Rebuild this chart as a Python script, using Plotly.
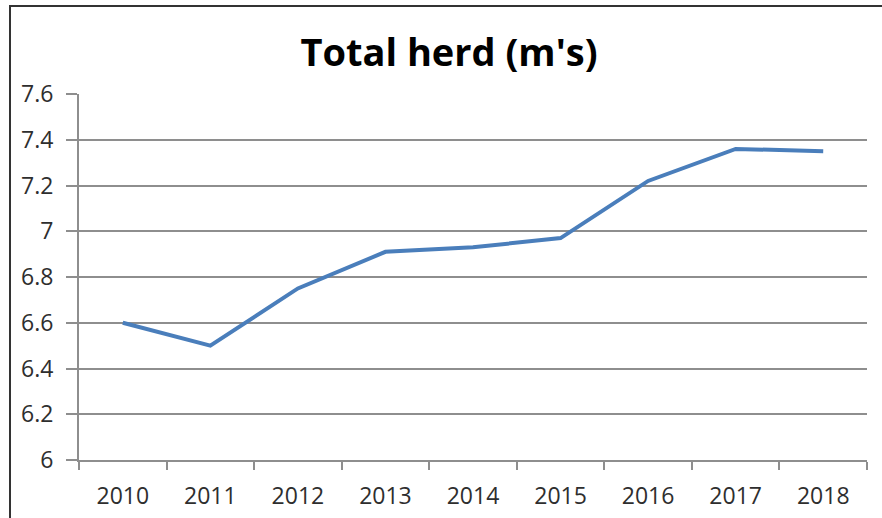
import plotly.graph_objects as go

years = ["2010", "2011", "2012", "2013", "2014", "2015", "2016", "2017", "2018"]
herd = [6.60, 6.50, 6.75, 6.91, 6.93, 6.97, 7.22, 7.36, 7.35]
title_text = "Total herd (m's)"

fig = go.Figure()
fig.add_trace(go.Scatter(
    x=years, y=herd, mode="lines",
    line=dict(color="#4A7EBB", width=4),
    showlegend=False,
))

grid_col = "#8E8E8E"
fig.update_layout(
    width=882, height=518,
    margin=dict(l=79, r=15, t=94, b=58),
    paper_bgcolor="white", plot_bgcolor="white",
    title=dict(text=f"<b>{title_text}</b>", x=449 / 882, xref="container",
               y=1 - 53 / 518, yref="container", xanchor="center", yanchor="middle",
               font=dict(family="Open Sans", size=38, color="black")),
    font=dict(family="Open Sans", size=23, color="#2E2E2E"),
    xaxis=dict(type="category", range=[-0.5, 8.5], showgrid=False, automargin=False,
               showline=True, linecolor=grid_col, linewidth=2,
               ticks="outside", tickson="boundaries", ticklen=8, tickwidth=2,
               tickcolor=grid_col, ticklabelstandoff=14),
    yaxis=dict(range=[6, 7.6], dtick=0.2, showgrid=True, gridcolor=grid_col, gridwidth=2,
               showline=True, linecolor=grid_col, linewidth=2, zeroline=False, automargin=False,
               ticks="outside", ticklen=11, tickwidth=2, tickcolor=grid_col,
               ticklabelstandoff=8),
    shapes=[dict(type="rect", xref="paper", yref="paper",
                 x0=(10 - 79) / 788, x1=1.2, y0=-0.5, y1=(460 - 6) / 366,
                 line=dict(color="#333333", width=2), layer="below")],
)

fig.write_html("out.html", config={"displayModeBar": False},
               post_script="document.body.style.margin='0px';")
